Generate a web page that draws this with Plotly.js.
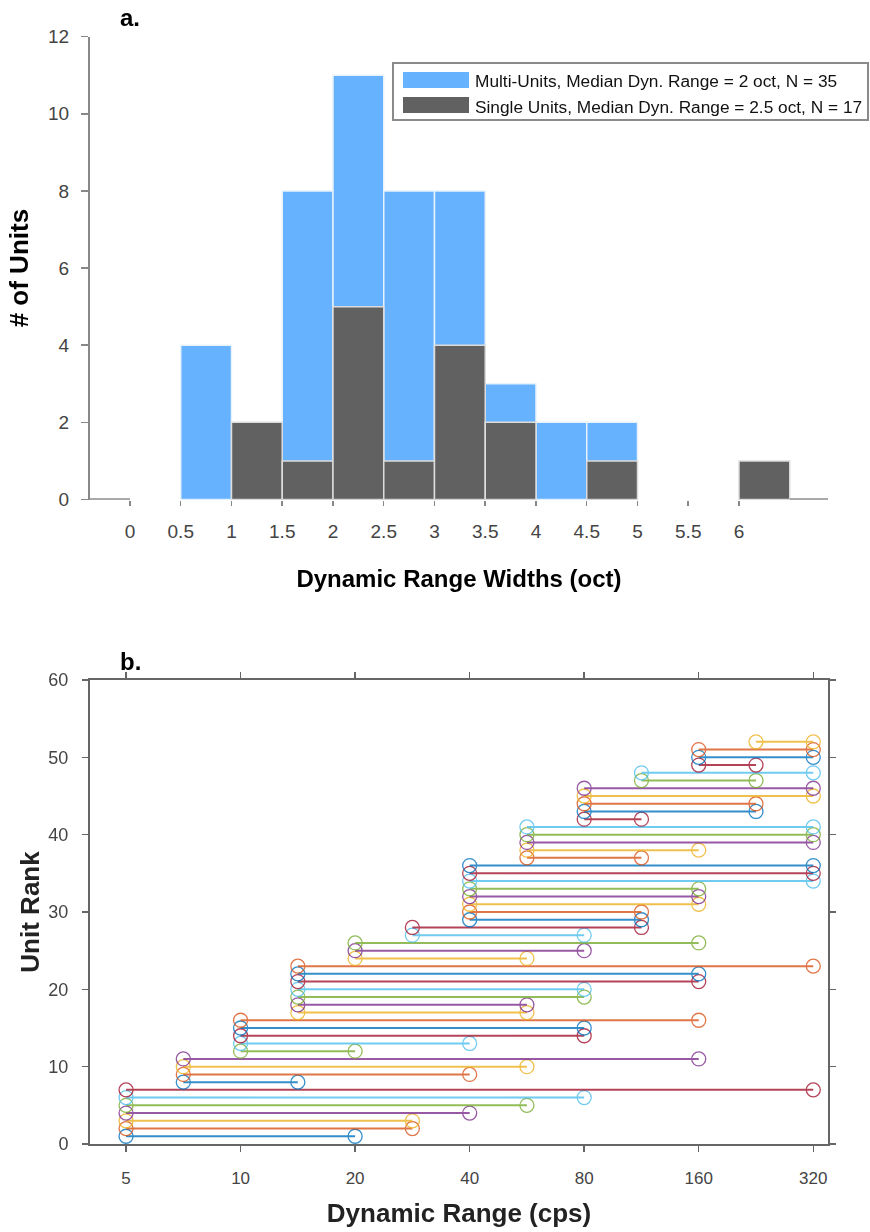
<!DOCTYPE html>
<html>
<head>
<meta charset="utf-8">
<script src="https://cdn.plot.ly/plotly-3.0.1.min.js"></script>
<style>html,body{margin:0;padding:0;background:#fff;}#chart{width:870px;height:1232px;}</style>
</head>
<body>
<div id="chart"></div>
<script>
// ---------- Panel a: histogram of dynamic range widths (oct) ----------
var binStarts   = [-0.5, 0, 0.5, 1, 1.5, 2, 2.5, 3, 3.5, 4, 4.5, 5, 5.5, 6, 6.5];
var multiCounts = [0, 0, 4, 0, 8, 11, 8, 8, 3, 2, 2, 0, 0, 0, 0];
var singleCounts= [0, 0, 0, 2, 1, 5, 1, 4, 2, 0, 1, 0, 0, 1, 0];
var binWidth = 0.5;
var histTickVals = [0, 0.5, 1, 1.5, 2, 2.5, 3, 3.5, 4, 4.5, 5, 5.5, 6];
var legendLabels = ["Multi-Units, Median Dyn. Range = 2 oct, N = 35",
                    "Single Units, Median Dyn. Range = 2.5 oct, N = 17"];

// ---------- Panel b: dynamic range per unit (cps) ----------
var unitRank = [1,2,3,4,5,6,7,8,9,10,11,12,13,14,15,16,17,18,19,20,21,22,23,24,25,26,
                27,28,29,30,31,32,33,34,35,36,37,38,39,40,41,42,43,44,45,46,47,48,49,50,51,52];
var rangeStart = [5,5,5,5,5,5,5, 7.07,7.07,7.07,7.07, 10,10,10,10,10,
                  14.14,14.14,14.14,14.14,14.14,14.14,14.14, 20,20,20, 28.28,28.28,
                  40,40,40,40,40,40,40,40, 56.57,56.57,56.57,56.57,56.57,
                  80,80,80,80,80, 113.14,113.14, 160,160,160, 226.27];
var rangeEnd   = [20,28.28,28.28,40,56.57,80,320, 14.14,40,56.57,160, 20,40,80,80,160,
                  56.57,56.57,80,80,160,160,320, 56.57,80,160, 80,113.14,
                  113.14,113.14,160,160,160,320,320,320, 113.14,160,320,320,320,
                  113.14,226.27,226.27,320,320, 226.27,320, 226.27,320,320, 320];
var cpsTicks = [5, 10, 20, 40, 80, 160, 320];
var lineColors = ["#0072BD","#D95319","#EDB120","#7E2F8E","#77AC30","#4DBEEE","#A2142F"];

function nz(a){ return a.map(function(v){ return v === 0 ? null : v; }); }

var traces = [];
// overlaid histogram bars
traces.push({type:'bar', x:binStarts, y:nz(multiCounts), width:binWidth, offset:0,
  marker:{color:'#66B2FF', line:{color:'#e8f2fb', width:1.5}},
  name:legendLabels[0], showlegend:false, xaxis:'x', yaxis:'y', hoverinfo:'x+y'});
traces.push({type:'bar', x:binStarts, y:nz(singleCounts), width:binWidth, offset:0,
  marker:{color:'#616161', line:{color:'#dcdcdc', width:1.5}},
  name:legendLabels[1], showlegend:false, xaxis:'x', yaxis:'y', hoverinfo:'x+y'});
// zero-height outer bins drawn as baseline strokes
[0, binStarts.length-1].forEach(function(i){
  traces.push({type:'scatter', mode:'lines', x:[binStarts[i], binStarts[i]+binWidth], y:[singleCounts[i], singleCounts[i]],
    line:{color:'#555', width:2}, showlegend:false, hoverinfo:'skip', xaxis:'x', yaxis:'y', cliponaxis:true});
});

// per-unit range lines
for (var k=0; k<unitRank.length; k++){
  traces.push({type:'scatter', mode:'lines+markers',
    x:[rangeStart[k], rangeEnd[k]], y:[unitRank[k], unitRank[k]],
    line:{color:lineColors[k%7], width:2},
    marker:{symbol:'circle-open', size:14, color:lineColors[k%7], line:{width:1.3}},
    opacity:0.8, showlegend:false, xaxis:'x2', yaxis:'y2'});
}

var F = 'Liberation Sans, Arial, Helvetica, sans-serif';
var W = 870, H = 1232;
function px(x){return x/W;}
function py(y){return 1 - y/H;}

var shapes = [
  {type:'rect', xref:'paper', yref:'paper', x0:px(393), x1:px(868), y0:py(63), y1:py(120),
   line:{color:'#8a8a8a', width:2}, fillcolor:'#ffffff', layer:'above'},
  {type:'rect', xref:'paper', yref:'paper', x0:px(403), x1:px(469), y0:py(72), y1:py(88),
   line:{width:0}, fillcolor:'#66B2FF', layer:'above'},
  {type:'rect', xref:'paper', yref:'paper', x0:px(403), x1:px(469), y0:py(97), y1:py(113),
   line:{width:0}, fillcolor:'#616161', layer:'above'}
];
var annotations = [
  {xref:'paper', yref:'paper', x:px(473), y:py(81), xanchor:'left', yanchor:'middle', showarrow:false,
   text:legendLabels[0], font:{family:F, size:17.3, color:'#111'}},
  {xref:'paper', yref:'paper', x:px(473), y:py(107), xanchor:'left', yanchor:'middle', showarrow:false,
   text:legendLabels[1], font:{family:F, size:17.3, color:'#111'}},
  {xref:'paper', yref:'paper', x:px(118), y:py(17), xanchor:'left', yanchor:'middle', showarrow:false,
   text:'<b>a.</b>', font:{family:F, size:24, color:'#000'}},
  {xref:'paper', yref:'paper', x:px(118), y:py(661), xanchor:'left', yanchor:'middle', showarrow:false,
   text:'<b>b.</b>', font:{family:F, size:24, color:'#000'}}
];

var layout = {
  width:W, height:H, margin:{l:0, r:0, t:0, b:0}, paper_bgcolor:'#fff', plot_bgcolor:'#fff',
  showlegend:false, barmode:'overlay', font:{family:F, color:'#333'},
  xaxis:{domain:[px(90), px(828)], range:[-0.394, 6.877], anchor:'y',
    tickvals:histTickVals, ticktext:histTickVals.map(String), ticks:'outside', ticklen:5, tickwidth:1.5,
    tickcolor:'#888', showline:false, showgrid:false, zeroline:false, ticklabelstandoff:10,
    tickfont:{family:F, size:19, color:'#444'},
    title:{text:'<b>Dynamic Range Widths (oct)</b>', font:{family:F, size:24, color:'#000'}, standoff:28}},
  yaxis:{domain:[py(499.5), py(36.7)], range:[0, 12], anchor:'x',
    tickvals:[0,2,4,6,8,10,12], ticks:'outside', ticklen:7, tickwidth:1.5, tickcolor:'#888',
    showline:true, linecolor:'#888', linewidth:2, showgrid:false, zeroline:false, ticklabelstandoff:8,
    tickfont:{family:F, size:19, color:'#444'},
    title:{text:'<b># of Units</b>', font:{family:F, size:26, color:'#000'}, standoff:12}},
  xaxis2:{domain:[px(90), px(828)], type:'log', range:[0.6042, 2.5439], anchor:'y2',
    tickvals:cpsTicks, ticktext:cpsTicks.map(String), ticks:'outside', ticklen:6, tickwidth:1.5,
    tickcolor:'#666', showline:true, mirror:'ticks', linecolor:'#666', linewidth:2,
    showgrid:false, zeroline:false, ticklabelstandoff:12,
    tickfont:{family:F, size:17, color:'#444'},
    title:{text:'<b>Dynamic Range (cps)</b>', font:{family:F, size:26, color:'#222'}, standoff:16}},
  yaxis2:{domain:[py(1144), py(680)], range:[0, 60], anchor:'x2',
    tickvals:[0,10,20,30,40,50,60], ticks:'outside', ticklen:6, tickwidth:1.5, tickcolor:'#666',
    showline:true, mirror:'ticks', linecolor:'#666', linewidth:2, showgrid:false, zeroline:false,
    ticklabelstandoff:10,
    tickfont:{family:F, size:18, color:'#444'},
    title:{text:'<b>Unit Rank</b>', font:{family:F, size:26, color:'#222'}, standoff:1}},
  shapes:shapes, annotations:annotations
};

Plotly.newPlot('chart', traces, layout, {displayModeBar:false, staticPlot:true});
</script>
</body>
</html>
